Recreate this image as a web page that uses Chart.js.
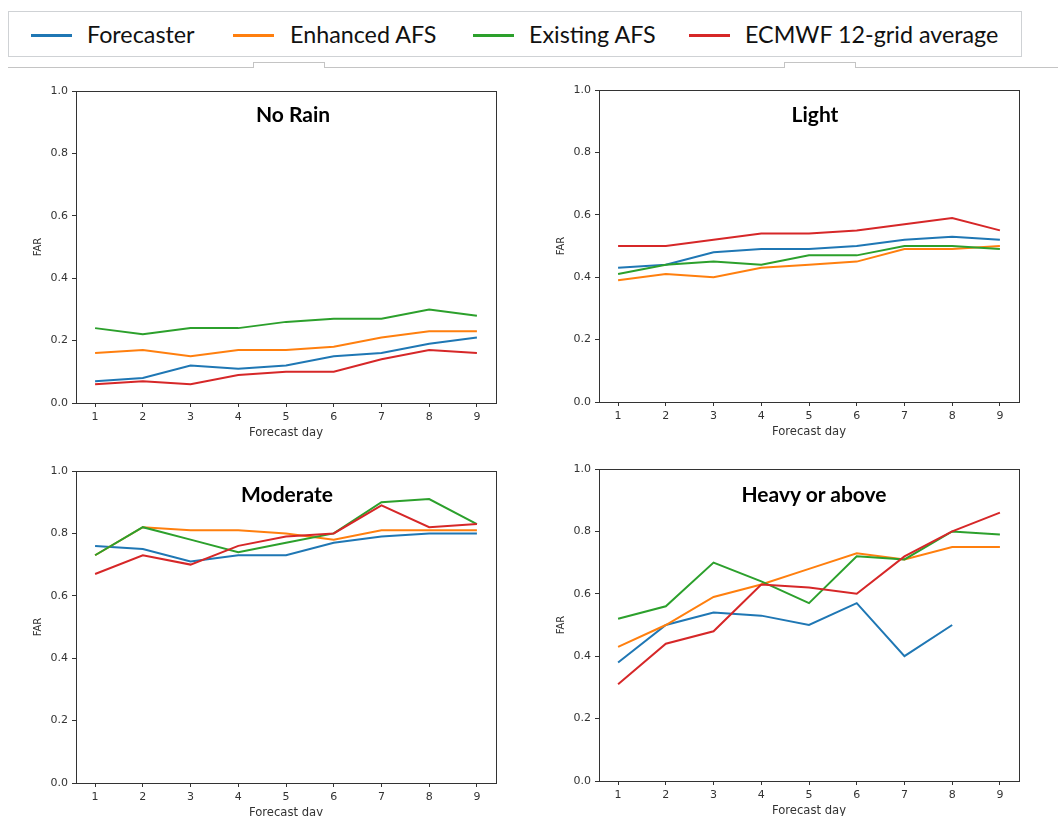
<!DOCTYPE html>
<html>
<head>
<meta charset="utf-8">
<script src="https://cdn.jsdelivr.net/npm/chart.js@4"></script>
<style>
  body { margin: 0; background: #fff; width: 1058px; height: 816px; position: relative; overflow: hidden; }
  canvas { position: absolute; }
  .legend { position: absolute; left: 8px; top: 11px; width: 1012px; height: 44px; border: 1.5px solid #cfd2d5; }
  .sw { position: absolute; height: 3px; top: 34px; width: 41px; }
  .lab { position: absolute; top: 20px; font: 23.3px Lato, sans-serif; color: #111; line-height: 28px; white-space: nowrap; }
  .rule { position: absolute; left: 8px; top: 67px; width: 1050px; border-top: 1px solid #c4c4c4; }
  .tab { position: absolute; top: 62px; height: 5px; border: 1px solid #c4c4c4; border-bottom: none; background: #fff; }
  .title { position: absolute; width: 300px; text-align: center; font: bold 21px Lato, sans-serif; color: #000; line-height: 24px; }
</style>
</head>
<body>
<div class="legend"></div>
<div class="sw" style="left:31px;background:#1f77b4"></div>
<div class="lab" style="left:87px">Forecaster</div>
<div class="sw" style="left:233px;background:#ff7f0e"></div>
<div class="lab" style="left:290px">Enhanced AFS</div>
<div class="sw" style="left:473px;background:#2ca02c"></div>
<div class="lab" style="left:529px">Existing AFS</div>
<div class="sw" style="left:689px;background:#d62728"></div>
<div class="lab" style="left:745px">ECMWF 12-grid average</div>
<div class="rule"></div>
<div class="tab" style="left:253px;width:70px"></div>
<div class="tab" style="left:784px;width:70px"></div>

<canvas id="c1" width="480" height="360" style="left:30px;top:80px"></canvas>
<canvas id="c2" width="480" height="360" style="left:553px;top:79px"></canvas>
<canvas id="c3" width="480" height="360" style="left:30px;top:460px"></canvas>
<canvas id="c4" width="480" height="360" style="left:553px;top:458px"></canvas>

<div class="title" style="left:143px;top:102px">No Rain</div>
<div class="title" style="left:665px;top:102px">Light</div>
<div class="title" style="left:137px;top:482px">Moderate</div>
<div class="title" style="left:664px;top:482px">Heavy or above</div>

<script>
// forecast days and y ticks
const days = [1, 2, 3, 4, 5, 6, 7, 8, 9];
const yTicks = [0, 0.2, 0.4, 0.6, 0.8, 1.0];
const seriesNames = ["Forecaster", "Enhanced AFS", "Existing AFS", "ECMWF 12-grid average"];
const colors = ["#1f77b4", "#ff7f0e", "#2ca02c", "#d62728"];

// No Rain
const noRainForecaster = [0.07, 0.08, 0.12, 0.11, 0.12, 0.15, 0.16, 0.19, 0.21];
const noRainEnhanced = [0.16, 0.17, 0.15, 0.17, 0.17, 0.18, 0.21, 0.23, 0.23];
const noRainExisting = [0.24, 0.22, 0.24, 0.24, 0.26, 0.27, 0.27, 0.30, 0.28];
const noRainEcmwf = [0.06, 0.07, 0.06, 0.09, 0.10, 0.10, 0.14, 0.17, 0.16];

// Light
const lightForecaster = [0.43, 0.44, 0.48, 0.49, 0.49, 0.50, 0.52, 0.53, 0.52];
const lightEnhanced = [0.39, 0.41, 0.40, 0.43, 0.44, 0.45, 0.49, 0.49, 0.50];
const lightExisting = [0.41, 0.44, 0.45, 0.44, 0.47, 0.47, 0.50, 0.50, 0.49];
const lightEcmwf = [0.50, 0.50, 0.52, 0.54, 0.54, 0.55, 0.57, 0.59, 0.55];

// Moderate
const moderateForecaster = [0.76, 0.75, 0.71, 0.73, 0.73, 0.77, 0.79, 0.80, 0.80];
const moderateEnhanced = [0.73, 0.82, 0.81, 0.81, 0.80, 0.78, 0.81, 0.81, 0.81];
const moderateExisting = [0.73, 0.82, 0.78, 0.74, 0.77, 0.80, 0.90, 0.91, 0.83];
const moderateEcmwf = [0.67, 0.73, 0.70, 0.76, 0.79, 0.80, 0.89, 0.82, 0.83];

// Heavy or above (no forecaster value on day 9)
const heavyForecaster = [0.38, 0.50, 0.54, 0.53, 0.50, 0.57, 0.40, 0.50, null];
const heavyEnhanced = [0.43, 0.50, 0.59, 0.63, 0.68, 0.73, 0.71, 0.75, 0.75];
const heavyExisting = [0.52, 0.56, 0.70, 0.64, 0.57, 0.72, 0.71, 0.80, 0.79];
const heavyEcmwf = [0.31, 0.44, 0.48, 0.63, 0.62, 0.60, 0.72, 0.80, 0.86];

const axisColor = "#333";
const tickFont = { family: "DejaVu Sans", size: 11 };

// box around the plot area, like matplotlib spines
const frame = {
  id: "frame",
  afterDraw(chart) {
    const { ctx, chartArea: a } = chart;
    ctx.save();
    ctx.strokeStyle = axisColor;
    ctx.lineWidth = 1;
    ctx.strokeRect(Math.round(a.left) + 0.5, Math.round(a.top) + 0.5,
      Math.round(a.right - a.left), Math.round(a.bottom - a.top));
    ctx.restore();
  },
};

function makePanel(id, series) {
  const ctx = document.getElementById(id).getContext("2d");
  new Chart(ctx, {
    type: "line",
    data: {
      labels: days,
      datasets: series.map((d, i) => ({
        label: seriesNames[i],
        data: d,
        borderColor: colors[i],
        borderWidth: 2,
        pointRadius: 0,
        tension: 0,
        fill: false,
        order: 3 - i, // last series on top
      })),
    },
    options: {
      responsive: false,
      animation: false,
      layout: { padding: { top: 11, right: 14, left: 0, bottom: 0 } },
      plugins: { legend: { display: false }, tooltip: { enabled: false } },
      scales: {
        x: {
          type: "linear",
          min: 0.6,
          max: 9.4,
          afterBuildTicks: (s) => { s.ticks = days.map((v) => ({ value: v })); },
          afterFit: (s) => { s.height = 37; },
          ticks: { font: tickFont, color: axisColor, padding: 4, maxRotation: 0, autoSkip: false },
          grid: { drawOnChartArea: false, drawTicks: true, tickLength: 4, color: axisColor },
          border: { color: axisColor },
          title: { display: true, text: "Forecast day", font: { family: "DejaVu Sans", size: 11.6 }, color: axisColor, padding: { top: 0, bottom: 0 } },
        },
        y: {
          min: 0,
          max: 1,
          afterBuildTicks: (s) => { s.ticks = yTicks.map((v) => ({ value: v })); },
          afterFit: (s) => { s.width = 46; },
          ticks: { font: tickFont, color: axisColor, padding: 4, callback: (v) => v.toFixed(1) },
          grid: { drawOnChartArea: false, drawTicks: true, tickLength: 4, color: axisColor },
          border: { color: axisColor },
          title: { display: true, text: "FAR", font: { family: "DejaVu Sans", size: 10 }, color: axisColor, padding: { top: 2, bottom: 2 } },
        },
      },
    },
    plugins: [frame],
  });
}

makePanel("c1", [noRainForecaster, noRainEnhanced, noRainExisting, noRainEcmwf]);
makePanel("c2", [lightForecaster, lightEnhanced, lightExisting, lightEcmwf]);
makePanel("c3", [moderateForecaster, moderateEnhanced, moderateExisting, moderateEcmwf]);
makePanel("c4", [heavyForecaster, heavyEnhanced, heavyExisting, heavyEcmwf]);
</script>
</body>
</html>
